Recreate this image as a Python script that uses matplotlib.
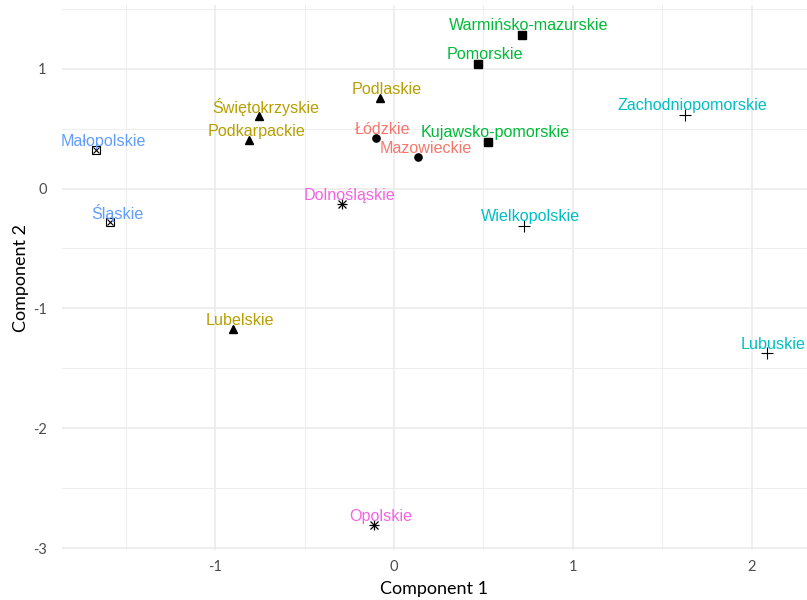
import numpy as np
import matplotlib
matplotlib.use("Agg")
import matplotlib.pyplot as plt

plt.rcParams['axes.unicode_minus'] = False

# voivodeship scores on the first two components
regions = ['Warmińsko-mazurskie', 'Pomorskie', 'Kujawsko-pomorskie',
           'Podlaskie', 'Świętokrzyskie', 'Podkarpackie', 'Lubelskie',
           'Łódzkie', 'Mazowieckie',
           'Małopolskie', 'Śląskie',
           'Dolnośląskie', 'Opolskie',
           'Zachodniopomorskie', 'Wielkopolskie', 'Lubuskie']
comp1 = [0.714, 0.468, 0.526,
         -0.080, -0.755, -0.809, -0.902,
         -0.101, 0.136,
         -1.667, -1.588,
         -0.289, -0.112,
         1.629, 0.725, 2.084]
comp2 = [1.280, 1.038, 0.388,
         0.752, 0.605, 0.403, -1.175,
         0.417, 0.261,
         0.319, -0.278,
         -0.131, -2.806,
         0.617, -0.312, -1.375]
cluster = [3, 3, 3,
           2, 2, 2, 2,
           1, 1,
           5, 5,
           6, 6,
           4, 4, 4]

# ggplot-style hue palette
pal = {1: '#F8766D', 2: '#B79F00', 3: '#00BA38',
       4: '#00BFC4', 5: '#619CFF', 6: '#F564E3'}

x_ticks = [-1, 0, 1, 2]
y_ticks = [-3, -2, -1, 0, 1]
tick_labels_x = ['-1', '0', '1', '2']
tick_labels_y = ['-3', '-2', '-1', '0', '1']


def draw_marker(ax, x, y, c):
    kw = dict(color='black', linestyle='none', zorder=3)
    if c == 1:
        ax.plot(x, y, marker='o', markersize=5.2, **kw)
    elif c == 2:
        ax.plot(x, y, marker='^', markersize=5.6, **kw)
    elif c == 3:
        ax.plot(x, y, marker='s', markersize=5.6, **kw)
    elif c == 4:
        ax.plot(x, y, marker='+', markersize=8, markeredgewidth=0.8, **kw)
    elif c == 5:
        ax.plot(x, y, marker='s', markersize=5.2, markerfacecolor='none',
                markeredgewidth=0.8, **kw)
        ax.plot(x, y, marker='x', markersize=3.8, markeredgewidth=0.8, **kw)
    elif c == 6:
        ax.plot(x, y, marker='+', markersize=7.5, markeredgewidth=0.9, **kw)
        ax.plot(x, y, marker='x', markersize=5.5, markeredgewidth=0.9, **kw)


fig = plt.figure(figsize=(8.07, 6.0), dpi=100)
ax = fig.add_axes([62 / 807, 50 / 600, 745 / 807, 545 / 600])

for name, x, y, c in zip(regions, comp1, comp2, cluster):
    draw_marker(ax, x, y, c)
    ax.annotate(name, (x, y), xytext=(5, 6.5), textcoords='offset points',
                ha='center', va='center', fontsize=11.6,
                family='Liberation Sans', color=pal[c], zorder=4,
                annotation_clip=False)

ax.set_xlim(-1.857, 2.310)
ax.set_ylim(-3.014, 1.53)

ax.set_xticks(x_ticks)
ax.set_xticklabels(tick_labels_x)
ax.set_yticks(y_ticks)
ax.set_yticklabels(tick_labels_y)
ax.set_xticks(np.arange(-1.5, 2.5, 1.0), minor=True)
ax.set_yticks(np.arange(-2.5, 1.6, 1.0), minor=True)

ax.grid(which='major', color='#EBEBEB', linewidth=1.2)
ax.grid(which='minor', color='#EBEBEB', linewidth=0.6)
ax.set_axisbelow(True)
for s in ax.spines.values():
    s.set_visible(False)
ax.tick_params(which='both', length=0)
ax.tick_params(axis='x', pad=7, labelsize=10.5, labelcolor='#4D4D4D')
ax.tick_params(axis='y', pad=11, labelsize=10.5, labelcolor='#4D4D4D')
for lab in ax.get_xticklabels() + ax.get_yticklabels():
    lab.set_family('Lato')

ax.set_xlabel('Component 1', fontsize=13, family='Lato', labelpad=5)
ax.set_ylabel('Component 2', fontsize=13, family='Lato', labelpad=3)

fig.savefig('out.png', dpi=100)
